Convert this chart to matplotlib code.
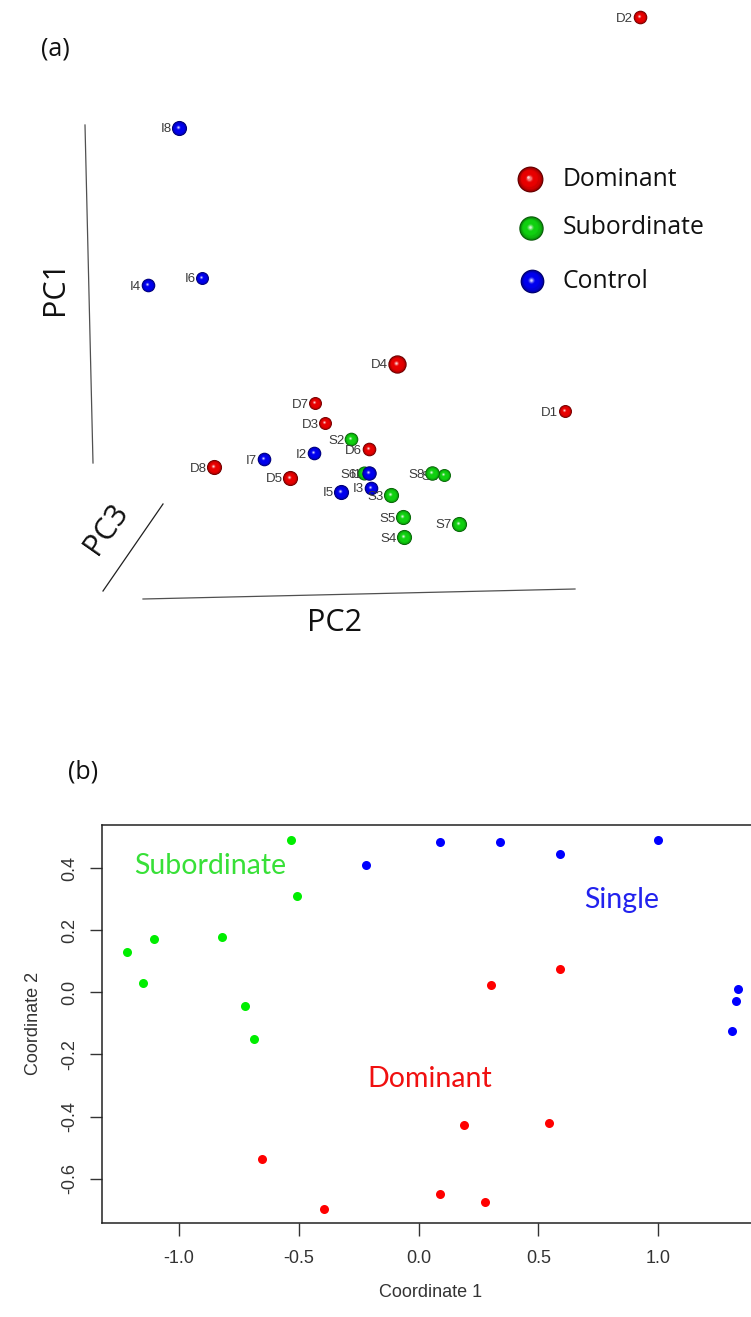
import numpy as np
import matplotlib
matplotlib.use("Agg")
import matplotlib.pyplot as plt
from matplotlib.colors import to_rgb

# ---------------- panel (a): 3-D PCA view (projected screen positions) ----------------
pca_labels = ["D2", "I8", "I6", "I4", "D4", "D1", "D7", "D3", "S2", "D6", "I2", "I7",
              "D8", "D5", "S6", "I1", "S1", "S8", "I3", "I5", "S3", "S5", "S4", "S7"]
pca_group = ["Dominant", "Control", "Control", "Control", "Dominant", "Dominant",
             "Dominant", "Dominant", "Subordinate", "Dominant", "Control", "Control",
             "Dominant", "Dominant", "Subordinate", "Control", "Subordinate", "Subordinate",
             "Control", "Control", "Subordinate", "Subordinate", "Subordinate", "Subordinate"]
# horizontal / vertical position of each sample in the rotated view
pca_h = [640, 179, 202, 148, 397, 565, 315, 325, 351, 369, 314, 264,
         214, 290, 364, 369, 444, 432, 371, 341, 391, 403, 404, 459]
pca_v = [17, 128, 278, 285, 364, 411, 403, 423, 439, 449, 453, 459,
         467, 478, 473, 473, 475, 473, 488, 492, 495, 517, 537, 524]
# apparent sphere radius (perspective depth)
pca_r = [6.3, 7, 6, 6.3, 8.5, 6, 6, 6, 6.3, 6.3, 6.3, 6.3,
         7, 7, 6.5, 6.7, 6, 6.7, 6.3, 7, 7, 7, 7, 7]

group_names = ["Dominant", "Subordinate", "Control"]
sphere_colors = {"Dominant": "#e80000", "Subordinate": "#10d010", "Control": "#0000ee"}

# ---------------- panel (b): MDS coordinates ----------------
sub_x = [-0.535, -0.508, -0.823, -1.106, -1.218, -1.152, -0.725, -0.687]
sub_y = [0.491, 0.309, 0.178, 0.171, 0.131, 0.029, -0.043, -0.150]
single_x = [-0.220, 0.089, 0.341, 0.592, 0.998, 1.332, 1.326, 1.310]
single_y = [0.409, 0.483, 0.483, 0.444, 0.491, 0.012, -0.027, -0.126]
dom_x = [0.592, 0.303, 0.191, 0.544, -0.653, -0.396, 0.089, 0.277]
dom_y = [0.075, 0.024, -0.427, -0.420, -0.538, -0.696, -0.648, -0.676]

x_ticks = [-1.0, -0.5, 0.0, 0.5, 1.0]
y_ticks = [-0.6, -0.4, -0.2, 0.0, 0.2, 0.4]

W, H = 751, 1317
fig = plt.figure(figsize=(W / 100, H / 100), dpi=100)
fig.patch.set_facecolor("white")


def draw_sphere(ax, x, y, r_px, base, z):
    """Shaded ball: dark rim, saturated body, pale highlight."""
    r_px = r_px * 1.08
    base = np.array(to_rgb(base))
    rim = base * 0.42
    light = base + (1 - base) * 0.8
    n = 12
    for k in range(n):
        t = k / (n - 1)
        f = 1 - 0.9 * t
        if t < 0.4:
            c = rim + (base - rim) * (t / 0.4) ** 0.5
        elif t < 0.7:
            c = base
        else:
            c = base + (light - base) * ((t - 0.7) / 0.3) ** 1.5
        d_pt = 2 * r_px * f * 0.72
        ax.scatter([x - 0.12 * r_px * t], [y - 0.12 * r_px * t], s=d_pt ** 2,
                   color=np.clip(c, 0, 1), lw=0, zorder=z + k * 0.01)


top_h = 670
ax_a = fig.add_axes([0, 1 - top_h / H, 1, top_h / H])
ax_a.set_xlim(0, W)
ax_a.set_ylim(top_h, 0)
ax_a.axis("off")

# box edges of the 3-D view
axis_col = "#505050"
ax_a.plot([85, 93], [125, 463], color=axis_col, lw=0.9)
ax_a.plot([163, 103], [504, 591], color="#202020", lw=0.9)
ax_a.plot([143, 575], [599, 589], color=axis_col, lw=0.9)

pc_font = dict(family=["Open Sans", "DejaVu Sans"], fontsize=22, color="#111111")
ax_a.text(55, 287, "PC1", rotation=90, ha="center", va="center", **pc_font)
ax_a.text(335, 623, "PC2", ha="center", va="center", **pc_font)
ax_a.text(106, 529, "PC3", rotation=55, ha="center", va="center",
          rotation_mode="anchor", **pc_font)

for i, (lab, g, hx, vy, r) in enumerate(zip(pca_labels, pca_group, pca_h, pca_v, pca_r)):
    z = 2 + i
    draw_sphere(ax_a, hx, vy, r, sphere_colors[g], z)
    ax_a.text(hx - r - 0.5, vy + 1.5, lab, ha="right", va="center",
              family=["Liberation Sans", "DejaVu Sans"], fontsize=9.5,
              color="#3a3a3a", zorder=z + 0.5)

# legend
leg_v = [179, 228, 281]
leg_h = [530, 531, 532]
leg_r = [12, 11.3, 11]
for name, lh, lv, lr in zip(group_names, leg_h, leg_v, leg_r):
    draw_sphere(ax_a, lh, lv, lr, sphere_colors[name], 40)
    ax_a.text(563, lv, name, ha="left", va="center",
              family=["Open Sans", "DejaVu Sans"], fontsize=17.8, color="#111111")

ax_a.text(55, 49, "(a)", ha="center", va="center",
          family=["Open Sans", "DejaVu Sans"], fontsize=18, color="#111111")

fig.text(83 / W, 1 - 772 / H, "(b)", ha="center", va="center",
         family=["Open Sans", "DejaVu Sans"], fontsize=18, color="#111111")

# ---------------- panel (b) ----------------
left_px, right_px, top_px, bot_px = 102, 760, 824.7, 1222.7
ax_b = fig.add_axes([left_px / W, 1 - bot_px / H, (right_px - left_px) / W,
                     (bot_px - top_px) / H])
ax_b.set_xlim(-1.322, 1.425)
ax_b.set_ylim(-0.7415, 0.5394)

ms = 6.5
ax_b.plot(sub_x, sub_y, "o", color="#00ee00", ms=ms, mec="none")
ax_b.plot(single_x, single_y, "o", color="#0000ff", ms=ms, mec="none")
ax_b.plot(dom_x, dom_y, "o", color="#ff0000", ms=ms, mec="none")

lab_font = dict(family=["Lato", "DejaVu Sans"], fontsize=20.5)
ax_b.text(-1.189, 0.381, "Subordinate", color="#38e038", ha="left", va="baseline", **lab_font)
ax_b.text(0.692, 0.270, "Single", color="#2222ee", ha="left", va="baseline", **lab_font)
ax_b.text(-0.2125, -0.304, "Dominant", color="#f01010", ha="left", va="baseline", **lab_font)

ax_b.set_xticks(x_ticks)
ax_b.set_xticklabels([f"{v:.1f}" for v in x_ticks])
ax_b.set_yticks(y_ticks)
ax_b.set_yticklabels([f"{v:.1f}" for v in y_ticks], rotation=90, va="center")
tick_font = ["Liberation Sans", "DejaVu Sans"]
for lbl in ax_b.get_xticklabels() + ax_b.get_yticklabels():
    lbl.set_family(tick_font)
    lbl.set_fontsize(13)
    lbl.set_color("#333333")
ax_b.tick_params(axis="both", direction="out", length=9, width=1, color="#333333")
ax_b.tick_params(axis="x", pad=11)
ax_b.tick_params(axis="y", pad=8)
for sp in ax_b.spines.values():
    sp.set_linewidth(1.1)
    sp.set_color("#222222")

ax_b.set_xlabel("Coordinate 1", family=tick_font, fontsize=13, color="#333333", labelpad=12)
ax_b.set_ylabel("Coordinate 2", family=tick_font, fontsize=13, color="#333333", labelpad=14)

fig.savefig("out.png", dpi=100, facecolor="white")
